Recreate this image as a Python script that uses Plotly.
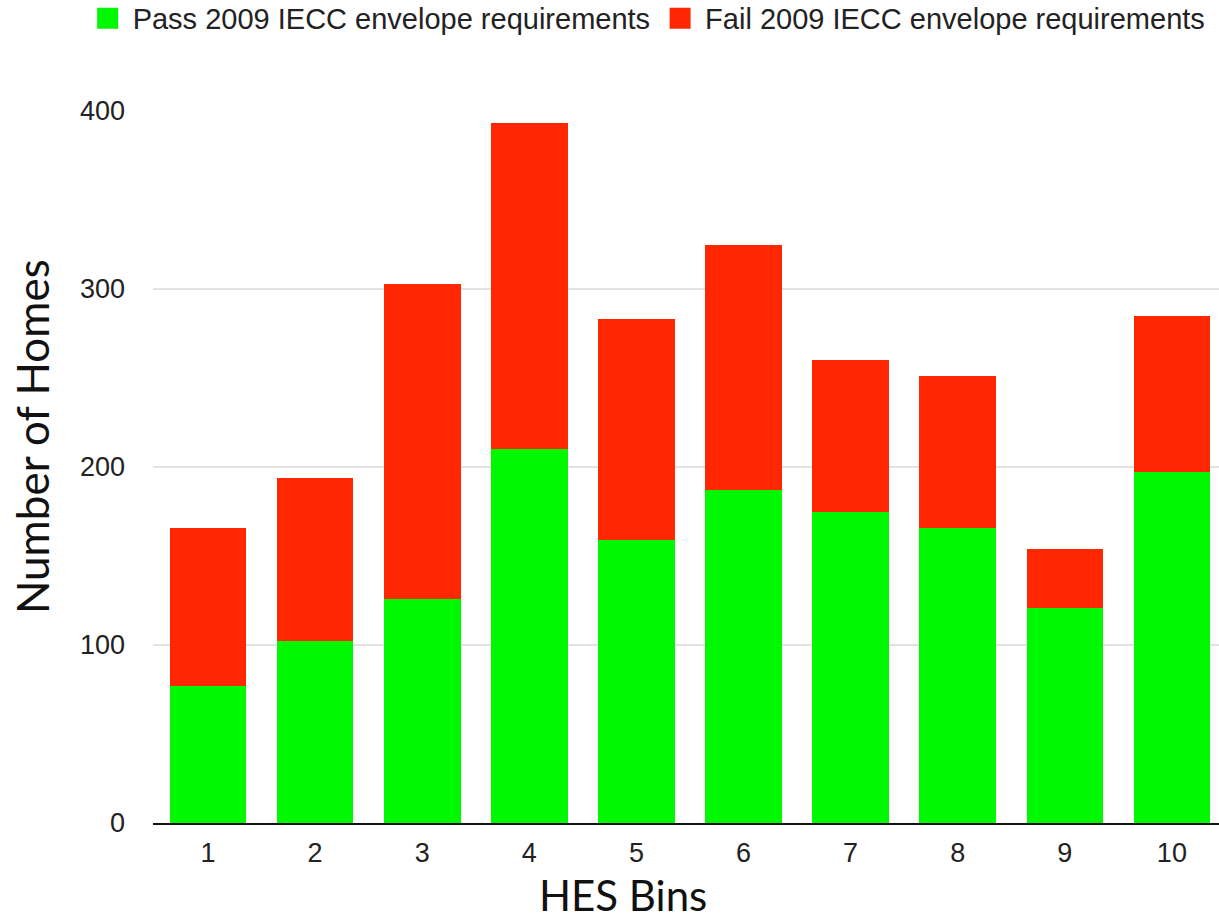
import plotly.graph_objects as go

bins = [1, 2, 3, 4, 5, 6, 7, 8, 9, 10]
bin_labels = ["1", "2", "3", "4", "5", "6", "7", "8", "9", "10"]
pass_vals = [77, 102, 126, 210, 159, 187, 175, 166, 121, 197]
fail_vals = [89, 92, 177, 183, 124, 138, 85, 85, 33, 88]
y_ticks = [0, 100, 200, 300, 400]
series_names = ["Pass 2009 IECC envelope requirements", "Fail 2009 IECC envelope requirements"]
series_colors = ["#00f800", "#ff2600"]

FONT = "Liberation Sans, Arial, Helvetica, sans-serif"
TITLE_FONT = "Lato, Open Sans, sans-serif"

fig = go.Figure()
for vals, name, col in zip([pass_vals, fail_vals], series_names, series_colors):
    fig.add_trace(go.Bar(x=bins, y=vals, name=name, showlegend=False, legendgroup=name,
                         marker=dict(color=col, line=dict(width=0)), width=0.715))
# legend entries with larger square swatches
for name, col in zip(series_names, series_colors):
    fig.add_trace(go.Scatter(x=[None], y=[None], mode="markers", name=name, legendgroup=name,
                             marker=dict(symbol="square", size=16, color=col,
                                         line=dict(color=col, width=5))))

fig.update_layout(
    barmode="stack",
    width=1219, height=914,
    margin=dict(l=153, r=0, t=111, b=91, autoexpand=False),
    paper_bgcolor="white", plot_bgcolor="white",
    font=dict(family=FONT, color="#222222"),
    showlegend=True,
    legend=dict(orientation="h", x=-0.066, y=1.166, xanchor="left", yanchor="top",
                font=dict(size=29, family=FONT, color="#222222"),
                traceorder="normal", itemwidth=40, itemsizing="trace"),
    xaxis=dict(range=[0.486, 10.44], tickmode="array", tickvals=bins, ticktext=bin_labels,
               showgrid=False, zeroline=False, showline=True, linecolor="#111111",
               linewidth=2, ticks="", ticklabelstandoff=5,
               tickfont=dict(size=27, family=FONT, color="#222222")),
    yaxis=dict(range=[0, 400], tickmode="array", tickvals=y_ticks,
               showgrid=True, gridcolor="#e3e3e3", gridwidth=2, zeroline=False,
               showline=False, ticks="", ticklabelstandoff=27,
               tickfont=dict(size=27, family=FONT, color="#222222")),
    annotations=[
        dict(text="Number of Homes", xref="paper", yref="paper", x=-0.1135, y=0.542,
             xanchor="center", yanchor="middle", textangle=-90, showarrow=False,
             font=dict(size=44, family=TITLE_FONT, color="#111111")),
        dict(text="HES Bins", xref="x", yref="paper", x=4.875, y=-0.1013,
             xanchor="center", yanchor="middle", showarrow=False, height=40,
             valign="middle",
             font=dict(size=42, family=TITLE_FONT, color="#111111")),
    ],
)

fig.write_html("out.html", config={"displayModeBar": False},
               post_script="document.body.style.margin='0px';")
